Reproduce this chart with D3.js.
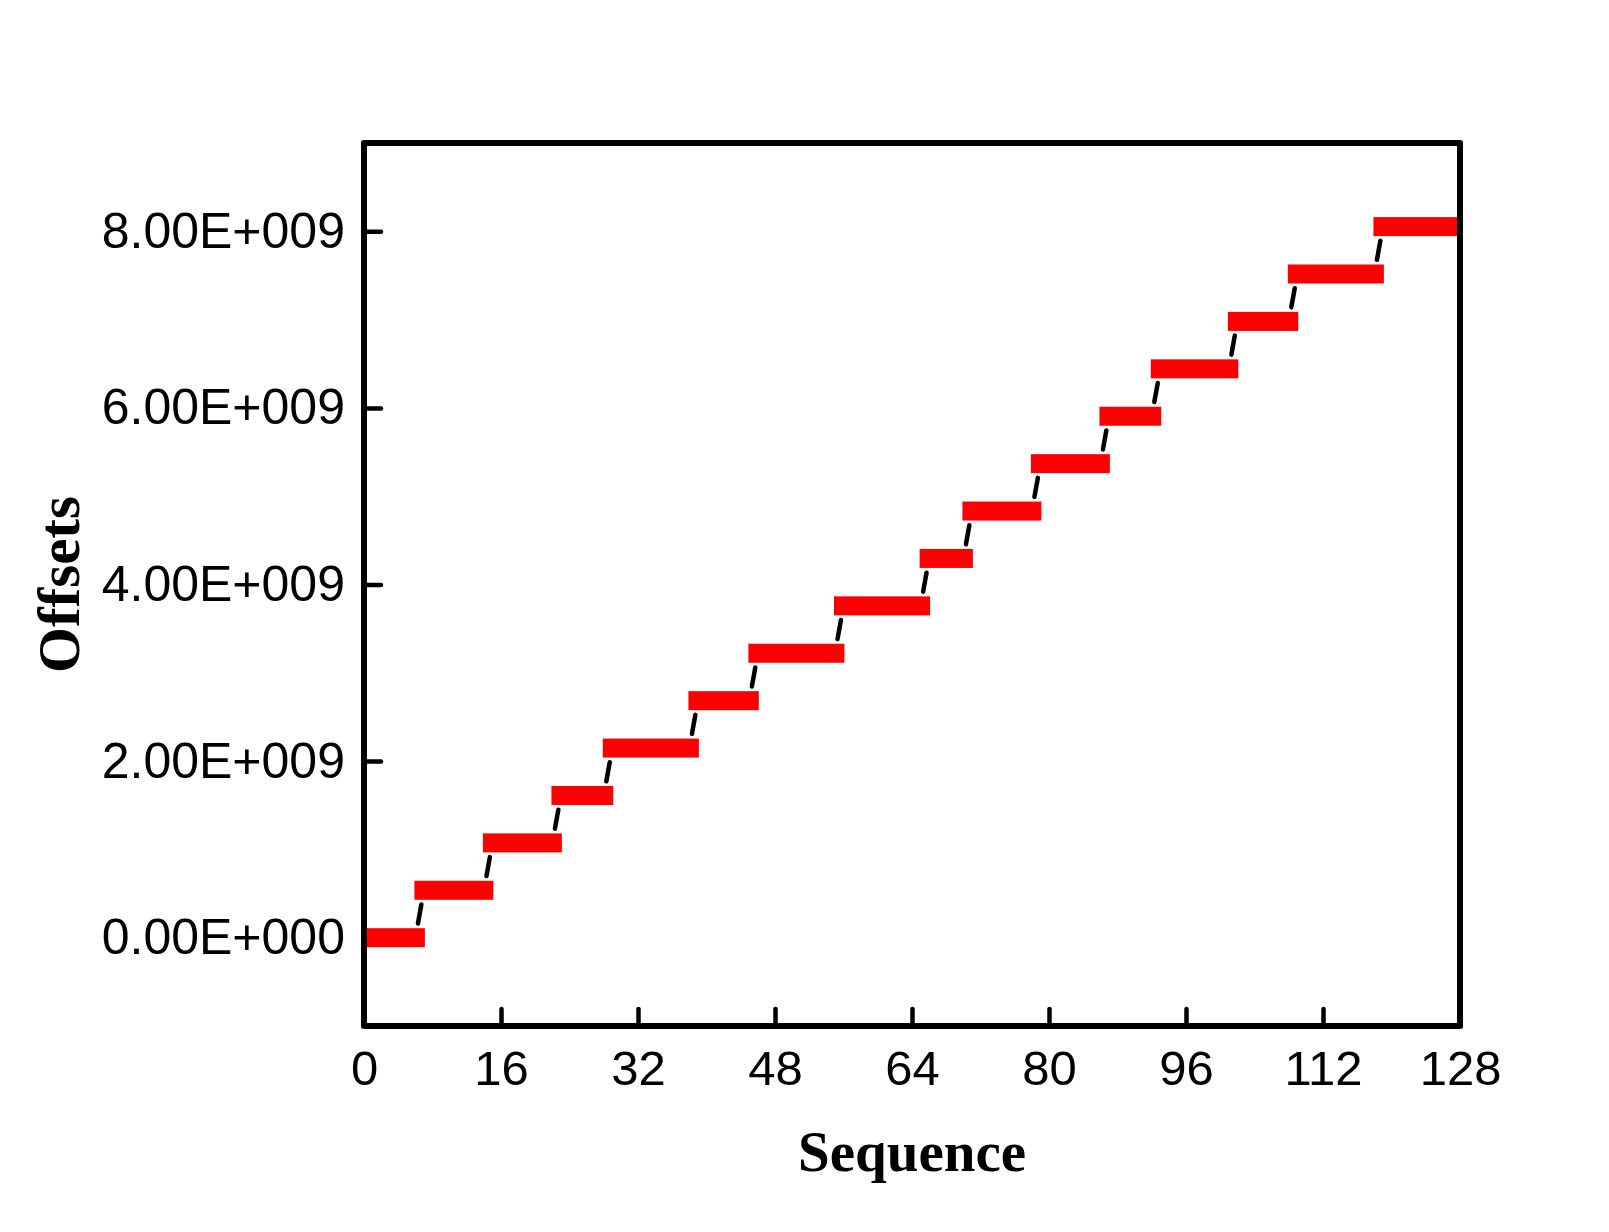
<!DOCTYPE html>
<html>
<head>
<meta charset="utf-8">
<script src="https://cdn.jsdelivr.net/npm/d3@7"></script>
<style>
  body { margin: 0; background: #fff; }
  svg { display: block; }
</style>
</head>
<body>
<svg id="chart" width="1609" height="1232"></svg>
<script>
// groups of equal offset: first and last sequence index, and the offset
var groupStart = [0, 7, 15, 23, 29, 39, 46, 56, 66, 71, 79, 87, 93, 102, 109, 119];
var groupEnd = [6, 14, 22, 28, 38, 45, 55, 65, 70, 78, 86, 92, 101, 108, 118, 128];
var groupOffset = [0, 536870912, 1073741824, 1610612736, 2147483648, 2684354560,
	3221225472, 3758096384, 4294967296, 4831838208, 5368709120, 5905580032,
	6442450944, 6979321856, 7516192768, 8053063680];

var xTicks = [0, 16, 32, 48, 64, 80, 96, 112, 128];
var yTicks = [0, 2e9, 4e9, 6e9, 8e9];
var yTickLabels = ["0.00E+000", "2.00E+009", "4.00E+009", "6.00E+009", "8.00E+009"];

var plotL = 364, plotR = 1460, plotT = 143, plotB = 1026;
var sq = 19; // symbol size

var svg = d3.select('#chart');

var x = d3.scaleLinear().domain([0, 128]).range([plotL, plotR]);
var y = d3.scaleLinear().domain([-1e9, 9e9]).range([plotB, plotT]);

// axes first, ticks pointing inward (data is drawn over them)
var yAxis = d3.axisLeft(y)
	.tickValues(yTicks)
	.tickFormat(function(d, i) { return yTickLabels[i]; })
	.tickSizeInner(-17)
	.tickSizeOuter(0)
	.tickPadding(19);

var xAxis = d3.axisBottom(x)
	.tickValues(xTicks)
	.tickFormat(d3.format('d'))
	.tickSizeInner(-17)
	.tickSizeOuter(0)
	.tickPadding(24);

var gy = svg.append('g').attr('transform', 'translate(' + plotL + ',0)').call(yAxis);
var gx = svg.append('g').attr('transform', 'translate(0,' + plotB + ')').call(xAxis);

[gx, gy].forEach(function(g) {
	g.select('.domain').remove();
	g.selectAll('line').style('stroke', '#000').style('stroke-width', 4.5).style('stroke-linecap', 'round');
	g.selectAll('text')
		.style('font-family', '"Liberation Sans", Arial, Helvetica, sans-serif')
		.style('fill', '#000');
});
gx.selectAll('text').style('font-size', '49px');
gy.selectAll('text').style('font-size', '50px');

svg.append('defs').append('clipPath').attr('id', 'plotclip')
	.append('rect')
	.attr('x', plotL).attr('y', plotT)
	.attr('width', plotR - plotL).attr('height', plotB - plotT);

var plot = svg.append('g').attr('clip-path', 'url(#plotclip)');

var groups = groupStart.map(function(s, i) {
	return { start: s, end: groupEnd[i], off: groupOffset[i] };
});

// black dashed connectors between groups (only the middle dash shows)
var links = groups.slice(1).map(function(g, i) {
	return { a: groups[i], b: g };
});
plot.selectAll('line.link')
	.data(links)
	.enter()
	.append('line')
	.attr('class', 'link')
	.attr('x1', function(d) { var x0 = x(d.a.end), x1 = x(d.b.start); return x0 + (x1 - x0) * 0.3; })
	.attr('y1', function(d) { var y0 = y(d.a.off), y1 = y(d.b.off); return y0 + (y1 - y0) * 0.3; })
	.attr('x2', function(d) { var x0 = x(d.a.end), x1 = x(d.b.start); return x0 + (x1 - x0) * 0.7; })
	.attr('y2', function(d) { var y0 = y(d.a.off), y1 = y(d.b.off); return y0 + (y1 - y0) * 0.7; })
	.style('stroke', '#000')
	.style('stroke-width', 4.5)
	.style('stroke-linecap', 'round');

// red runs of square symbols
plot.selectAll('rect.run')
	.data(groups)
	.enter()
	.append('rect')
	.attr('class', 'run')
	.attr('x', function(d) { return x(d.start) - sq / 2; })
	.attr('y', function(d) { return y(d.off) - sq / 2; })
	.attr('width', function(d) { return x(d.end) - x(d.start) + sq; })
	.attr('height', sq)
	.style('fill', '#ff0000');

// frame
svg.append('rect')
	.attr('x', plotL).attr('y', plotT)
	.attr('width', plotR - plotL).attr('height', plotB - plotT)
	.style('fill', 'none')
	.style('stroke', '#000')
	.style('stroke-width', 6)
	.style('stroke-linejoin', 'round');

// titles
svg.append('text')
	.attr('x', (plotL + plotR) / 2)
	.attr('y', 1171)
	.attr('text-anchor', 'middle')
	.style('font-family', '"Liberation Serif", "Times New Roman", serif')
	.style('font-weight', 'bold')
	.style('font-size', '57px')
	.text('Sequence');

svg.append('text')
	.attr('transform', 'translate(79,' + ((plotT + plotB) / 2) + ') rotate(-90)')
	.attr('text-anchor', 'middle')
	.style('font-family', '"Liberation Serif", "Times New Roman", serif')
	.style('font-weight', 'bold')
	.style('font-size', '59px')
	.text('Offsets');
</script>
</body>
</html>
